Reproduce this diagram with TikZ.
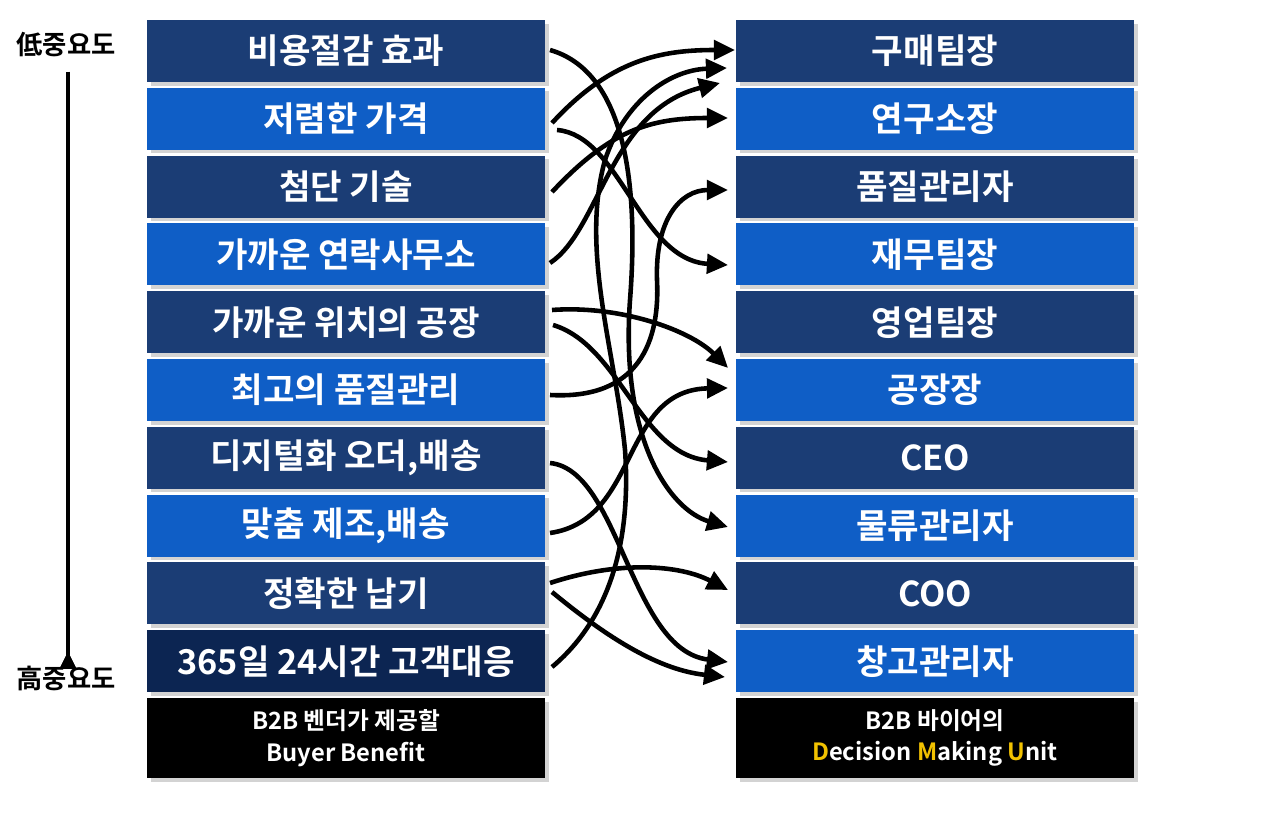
\documentclass[tikz,border=0pt]{standalone}
\usepackage{fontspec}
\setmainfont{Noto Sans CJK KR Bold}
\usetikzlibrary{arrows.meta,shadows}
\definecolor{navy}{HTML}{1B3D75}
\definecolor{blu}{HTML}{0F5EC6}
\definecolor{deep}{HTML}{0C2552}
\definecolor{ylw}{HTML}{F2C200}
\begin{document}
\begin{tikzpicture}[x=0.02cm,y=-0.02cm,
 bx/.style={draw=none,minimum width=398*0.02cm,minimum height=62*0.02cm,text=white,font=\fontsize{19.5}{21}\selectfont,inner sep=0pt,drop shadow={shadow xshift=2pt,shadow yshift=-2pt,opacity=0.35}},
 ft/.style={bx,fill=black,minimum height=80*0.02cm,font=\fontsize{13.5}{18}\selectfont,align=center},
 cv/.style={line width=2.6pt,-{Triangle[length=12pt,width=11pt]}}]
\useasboundingbox (0,0) rectangle (1280,817);
\foreach \t/\c [count=\i] in {비용절감 효과/navy,저렴한 가격/blu,첨단 기술/navy,가까운 연락사무소/blu,가까운 위치의 공장/navy,최고의 품질관리/blu,{디지털화 오더,배송}/navy,{맞춤 제조,배송}/blu,정확한 납기/navy,365일 24시간 고객대응/deep}
 \node[bx,fill=\c] (L\i) at (346,{51+(\i-1)*67.8}) {\t};
\foreach \t/\c [count=\i] in {구매팀장/navy,연구소장/blu,품질관리자/navy,재무팀장/blu,영업팀장/navy,공장장/blu,CEO/navy,물류관리자/blu,COO/navy,창고관리자/blu}
 \node[bx,fill=\c] (R\i) at (935,{51+(\i-1)*67.8}) {\t};
\node[ft] (LF) at (346,738) {B2B 벤더가 제공할\\Buyer Benefit};
\node[ft] (RF) at (935,738) {B2B 바이어의\\\textcolor{ylw}{D}ecision \textcolor{ylw}{M}aking \textcolor{ylw}{U}nit};
\node[font=\fontsize{15}{16}\selectfont] (lo) at (66,45) {低중요도};
\node[font=\fontsize{15}{16}\selectfont] (hi) at (66,678) {高중요도};
\draw[line width=2.2pt,{Triangle[length=10pt,width=9pt]}-{Triangle[length=10pt,width=9pt]}] (lo.south -| 68,0) ++(0,8) coordinate (a1) -- (hi.north -| 68,0) ++(0,-8) coordinate (a2);
\foreach \n/\x/\y in {s1/550/50,s2/552/123,s3/557/130,s4/552/192,s5/550/263,s6/552/667,s7/550/395,s8/552/310,s9/553/325,s10/550/463,s11/550/533,s12/550/583,s13/552/592,
 e1/735/50,e2/727/68,e3/720/83,e4/728/118,e5/728/190,e6/728/265,e7/728/368,e8/728/388,e9/728/462,e10/728/527,e11/728/590,e12/728/662,e13/725/677}
 \coordinate (\n) at (\x,\y);
\draw[cv] (s1) .. controls (620,70) and (640,170) .. (630,300) .. controls (620,440) and (670,510) .. (e10);
\draw[cv] (s2) .. controls (610,60) and (660,50) .. (e1);
\draw[cv] (s3) .. controls (620,135) and (640,260) .. (e6);
\draw[cv] (s4) .. controls (610,130) and (650,118) .. (e4);
\draw[cv] (s5) .. controls (600,230) and (610,110) .. (e3);
\draw[cv] (s6) .. controls (620,610) and (630,520) .. (625,450) .. controls (615,350) and (580,250) .. (605,160) .. controls (625,100) and (670,70) .. (e2);
\draw[cv] (s7) .. controls (640,400) and (660,340) .. (657,280) .. controls (655,220) and (680,190) .. (e5);
\draw[cv] (s8) .. controls (620,305) and (690,330) .. (e7);
\draw[cv] (s9) .. controls (620,345) and (640,455) .. (e9);
\draw[cv] (s10) .. controls (620,470) and (630,650) .. (e12);
\draw[cv] (s11) .. controls (640,520) and (620,390) .. (e8);
\draw[cv] (s12) .. controls (620,560) and (680,565) .. (e11);
\draw[cv] (s13) .. controls (610,640) and (660,670) .. (e13);
\end{tikzpicture}
\end{document}
